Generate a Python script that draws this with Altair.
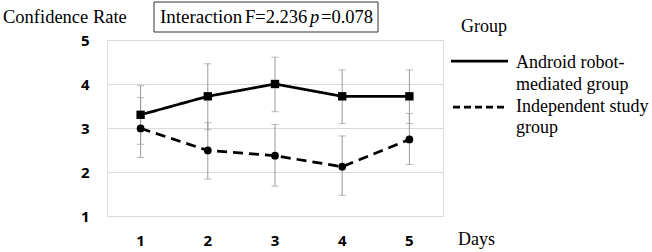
import altair as alt
import pandas as pd

days = [1, 2, 3, 4, 5]
groups = ["Android robot-mediated group", "Independent study group"]
android_mean = [3.30, 3.72, 4.00, 3.72, 3.72]
android_lo = [2.63, 2.96, 3.37, 3.10, 3.10]
android_hi = [3.96, 4.46, 4.61, 4.32, 4.32]
indep_mean = [2.99, 2.49, 2.37, 2.12, 2.74]
indep_lo = [2.33, 1.84, 1.68, 1.47, 2.17]
indep_hi = [3.69, 3.12, 3.08, 2.82, 3.33]
y_ticks = [1, 2, 3, 4, 5]

rows = []
for d, m, lo, hi in zip(days, android_mean, android_lo, android_hi):
    rows.append({"day": d, "group": groups[0], "mean": m, "lo": lo, "hi": hi})
for d, m, lo, hi in zip(days, indep_mean, indep_lo, indep_hi):
    rows.append({"day": d, "group": groups[1], "mean": m, "lo": lo, "hi": hi})
df = pd.DataFrame(rows)

SERIF = "'Times New Roman', 'Liberation Serif', 'DejaVu Serif', serif"
SANS = "'Open Sans', 'Liberation Sans', sans-serif"

xenc = alt.X("day:O", scale=alt.Scale(paddingOuter=0.5, paddingInner=1),
             axis=alt.Axis(title=None, labelAngle=0, ticks=False, domain=False,
                           labelFont=SANS, labelFontWeight="bold", labelFontSize=15,
                           labelColor="#000", labelBaseline="middle", labelPadding=24,
                           grid=False))
yscale = alt.Scale(domain=[1, 5], nice=False, zero=False)

base = alt.Chart(df)

err_rule = base.mark_rule(color="#999999", strokeWidth=1).encode(
    x=xenc, y=alt.Y("lo:Q", scale=yscale), y2="hi:Q")
err_lo = base.mark_tick(color="#999999", thickness=1, size=7).encode(
    x=xenc, y=alt.Y("lo:Q", scale=yscale))
err_hi = base.mark_tick(color="#999999", thickness=1, size=7).encode(
    x=xenc, y=alt.Y("hi:Q", scale=yscale))

dash = alt.StrokeDash("group:N", scale=alt.Scale(domain=groups, range=[[1, 0], [10, 6]]), legend=None)

lines = base.mark_line(color="#000", strokeWidth=2.75).encode(
    x=xenc,
    y=alt.Y("mean:Q", scale=yscale,
            axis=alt.Axis(title=None, values=y_ticks, ticks=False, domain=False,
                          labelFont=SANS, labelFontWeight="bold", labelFontSize=15,
                          labelColor="#000", labelPadding=18,
                          gridColor="#d9d9d9", gridWidth=1)),
    strokeDash=dash, detail="group:N")

points = base.mark_point(filled=True, color="#000", opacity=1).encode(
    x=xenc, y=alt.Y("mean:Q", scale=yscale),
    shape=alt.Shape("group:N", scale=alt.Scale(domain=groups, range=["square", "circle"]), legend=None),
    size=alt.Size("group:N", scale=alt.Scale(domain=groups, range=[70, 60]), legend=None))

one = alt.Data(values=[{}])


def txt(s, x, y, size=18, style="normal", align="left", font=SERIF):
    return alt.Chart(one).mark_text(text=s, font=font, fontSize=size, fontStyle=style,
                                    align=align, baseline="middle", color="#000").encode(
        x=alt.value(x), y=alt.value(y))


box = alt.Chart(one).mark_rect(fill="white", stroke="#333333", strokeWidth=1).encode(
    x=alt.value(47), x2=alt.value(271), y=alt.value(-38), y2=alt.value(-8))

leg_solid = alt.Chart(one).mark_rule(color="#000", strokeWidth=2.75).encode(
    x=alt.value(344), x2=alt.value(401), y=alt.value(21))
leg_dash = alt.Chart(one).mark_rule(color="#000", strokeWidth=2.75, strokeDash=[7, 4]).encode(
    x=alt.value(346), x2=alt.value(401), y=alt.value(67))

chart = alt.layer(
    err_rule, err_lo, err_hi, lines, points,
    box,
    txt("Confidence Rate", -104, -23, size=18.5),
    txt("Interaction", 53, -23, size=19),
    txt("F=2.236", 138, -23, size=18.5),
    txt("p", 203, -23, size=18.5, style="italic"),
    txt("=0.078", 214, -23, size=18.5),
    txt("Group", 354, -13),
    leg_solid, leg_dash,
    txt("Android robot-", 409, 23),
    txt("mediated group", 409, 45),
    txt("Independent study", 409, 67),
    txt("group", 409, 88),
    txt("Days", 351, 200),
).properties(
    width=336, height=176,
    autosize=alt.AutoSizeParams(type="none"),
    padding={"left": 107, "top": 40, "right": 209, "bottom": 36},
).configure_view(stroke=None).configure(background="white")

chart.save("out.html", embed_options={"renderer": "svg", "actions": False})
